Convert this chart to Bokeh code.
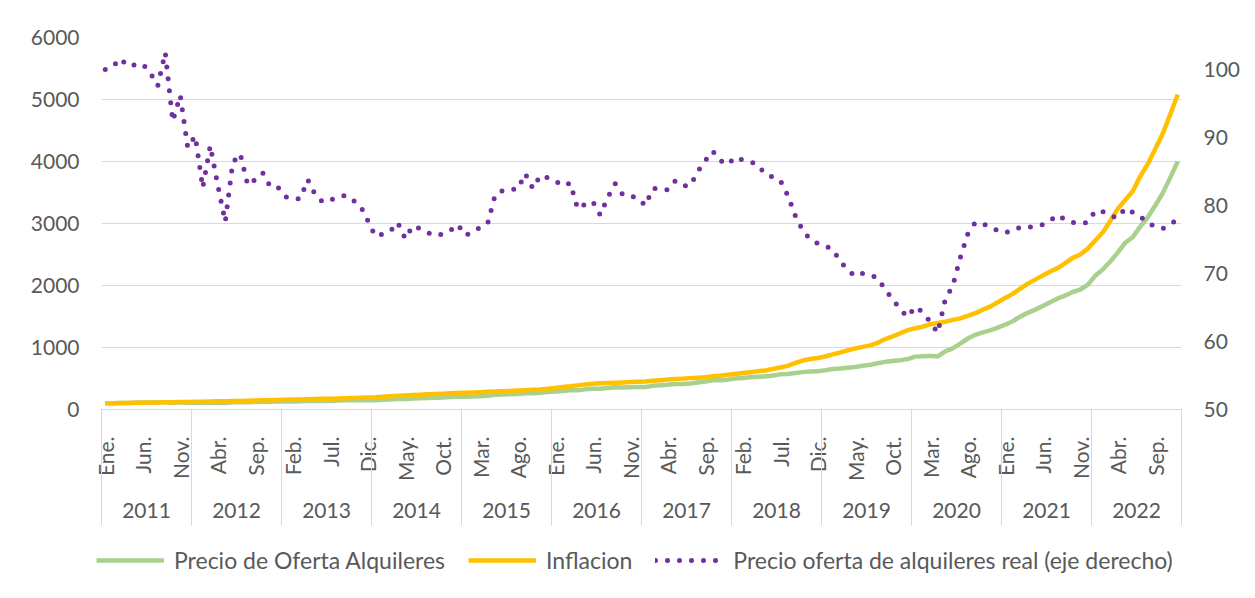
import math
from bokeh.plotting import figure
from bokeh.layouts import column
from bokeh.models import Range1d, LinearAxis, FixedTicker, Legend, LegendItem
from bokeh.embed import file_html
from bokeh.resources import INLINE

# ---------------- data ----------------
YEARS = [str(y) for y in range(2011, 2023)]
MONTHS = ["Ene.", "Feb.", "Mar.", "Abr.", "May.", "Jun.", "Jul.", "Ago.", "Sep.", "Oct.", "Nov.", "Dic."]

# Precio de Oferta Alquileres (left axis), monthly Jan-2011 .. Dec-2022
precio_oferta = [
    100, 102.4, 105.7, 106.5, 108.8, 110.9, 111.4, 111.3, 118.9, 109.0, 115.4, 108.0,
    111.8, 104.9, 114.6, 109.6, 104.0, 118.2, 121.8, 117.9, 121.5, 125.5, 125.0, 127.4,
    127.6, 129.6, 132.0, 139.1, 137.9, 138.5, 141.4, 144.5, 147.5, 149.5, 151.2, 150.2,
    149.5, 156.9, 163.1, 170.5, 169.7, 178.6, 182.3, 185.4, 189.0, 194.0, 199.9, 206.1,
    204.9, 209.3, 215.0, 220.6, 236.6, 242.5, 247.2, 251.3, 263.4, 261.5, 271.8, 281.7,
    290.9, 300.1, 311.5, 309.3, 324.8, 336.1, 333.3, 347.5, 358.6, 355.8, 359.8, 362.5,
    361.6, 381.2, 390.2, 399.2, 411.3, 412.8, 419.5, 436.9, 452.1, 470.8, 470.2, 481.6,
    500.0, 508.9, 518.4, 529.8, 533.0, 549.8, 566.6, 573.0, 588.8, 602.8, 611.3, 617.5,
    633.6, 652.7, 660.6, 673.3, 685.6, 707.0, 722.4, 745.7, 768.6, 781.2, 795.8, 814.1,
    852.8, 858.4, 864.9, 855.1, 936.7, 985.5, 1062.8, 1144.6, 1205.1, 1244.5, 1276.5, 1320.0,
    1368, 1423, 1498, 1559, 1611, 1668, 1731, 1792, 1838, 1895, 1935, 2011,
    2158, 2258, 2386, 2530, 2690, 2781, 2950, 3100, 3290, 3490, 3740, 4000,
]

# Inflacion (left axis)
inflacion = [
    100, 102, 104, 106, 108, 110, 112, 114, 116, 118, 120, 122,
    124, 127, 129, 132, 134, 137, 139, 142, 145, 148, 151, 154,
    157, 160, 163, 166, 169, 172, 175, 178, 181, 185, 189, 193,
    198, 207, 214, 220, 226, 232, 238, 244, 250, 256, 262, 267,
    271, 275, 280, 285, 290, 295, 300, 305, 311, 317, 322, 335,
    348, 362, 374, 389, 405, 417, 424, 428, 431, 436, 442, 447,
    452, 462, 473, 485, 492, 498, 506, 514, 522, 535, 543, 560,
    574, 587, 600, 616, 630, 653, 677, 703, 750, 790, 815, 830,
    855, 888, 920, 955, 985, 1010, 1035, 1076, 1137, 1180, 1230, 1280,
    1310, 1335, 1375, 1395, 1415, 1445, 1470, 1510, 1555, 1610, 1660, 1730,
    1800, 1865, 1950, 2030, 2095, 2160, 2225, 2280, 2360, 2445, 2500, 2595,
    2725, 2855, 3040, 3235, 3380, 3520, 3760, 3960, 4200, 4450, 4760, 5080,
]

# Precio oferta de alquileres real (right axis)
precio_real = [
    100, 100.4, 101.6, 100.5, 100.7, 100.8, 99.5, 97.6, 102.5, 92.4, 96.2, 88.5,
    90.2, 82.6, 88.8, 83.0, 77.6, 86.3, 87.6, 83.0, 83.8, 84.8, 82.8, 82.7,
    81.3, 81.0, 81.0, 83.8, 81.6, 80.5, 80.8, 81.2, 81.5, 80.8, 80.0, 77.8,
    75.5, 75.8, 76.2, 77.5, 75.1, 77.0, 76.6, 76.0, 75.6, 75.8, 76.3, 77.2,
    75.6, 76.1, 76.8, 77.4, 81.6, 82.2, 82.4, 82.4, 84.7, 82.5, 84.4, 84.1,
    83.6, 82.9, 83.3, 79.5, 80.2, 80.6, 78.6, 81.2, 83.2, 81.6, 81.4, 81.1,
    80.0, 82.5, 82.5, 82.3, 83.6, 82.9, 82.9, 85.0, 86.6, 88.0, 86.6, 86.0,
    87.1, 86.7, 86.4, 86.0, 84.6, 84.2, 83.7, 81.5, 78.5, 76.3, 75.0, 74.4,
    74.1, 73.5, 71.8, 70.5, 69.6, 70.0, 69.8, 69.3, 67.6, 66.2, 64.7, 63.6,
    65.1, 64.3, 62.9, 61.3, 66.2, 68.2, 72.3, 75.8, 77.5, 77.3, 76.9, 76.3,
    76.0, 76.3, 76.8, 76.8, 76.9, 77.2, 77.8, 78.6, 77.9, 77.5, 77.4, 77.5,
    79.2, 79.1, 78.5, 78.2, 79.6, 79.0, 78.4, 77.4, 76.9, 76.6, 77.2, 78.0,
]

LEFT_TICKS = [0, 1000, 2000, 3000, 4000, 5000, 6000]
RIGHT_TICKS = [50, 60, 70, 80, 90, 100]
LABELS = ["Precio de Oferta Alquileres", "Inflacion", "Precio oferta de alquileres real (eje derecho)"]

# ---------------- styling ----------------
FONT = "Lato"
FS = "21px"
TXT = "#595959"
GRID = "#d9d9d9"
GREEN = "#A9D18E"
ORANGE = "#FFC000"
PURPLE = "#7030A0"
DOTS = dict(line_width=5, line_dash="0 12", line_cap="round", line_join="round")

n = len(inflacion)
x = list(range(n))

p = figure(width=1250, height=545, output_backend="svg", toolbar_location=None,
           x_range=Range1d(-0.5, n - 0.5), y_range=Range1d(0, 6000),
           x_axis_type=None, min_border_left=101, min_border_right=69,
           min_border_top=37, min_border_bottom=136)
p.outline_line_color = None
p.extra_y_ranges = {"right": Range1d(50, 104.7)}

# grid
p.ygrid.ticker = FixedTicker(ticks=LEFT_TICKS)
p.ygrid.grid_line_color = GRID
p.ygrid.grid_line_width = 1

def style_axis(ax, standoff):
    ax.axis_line_color = None
    ax.major_tick_line_color = None
    ax.minor_tick_line_color = None
    ax.major_tick_out = 0
    ax.major_tick_in = 0
    ax.minor_tick_out = 0
    ax.minor_tick_in = 0
    ax.major_label_standoff = standoff
    ax.major_label_text_font = FONT
    ax.major_label_text_font_size = FS
    ax.major_label_text_color = TXT

# left axis
ly = p.left[0]
ly.ticker = FixedTicker(ticks=LEFT_TICKS)
style_axis(ly, 22)

# right axis
ry = LinearAxis(y_range_name="right", ticker=FixedTicker(ticks=RIGHT_TICKS))
style_axis(ry, 22)
p.add_layout(ry, "right")

# month axis (first level of the category axis)
month_ticks = list(range(0, n, 5))
mx = LinearAxis(ticker=FixedTicker(ticks=month_ticks),
                major_label_overrides={t: MONTHS[t % 12] for t in month_ticks})
style_axis(mx, 27)
mx.axis_line_color = GRID
mx.major_label_orientation = math.pi / 2
p.add_layout(mx, "below")

# year axis (second level)
year_ticks = [12 * k + 5.5 for k in range(len(YEARS))]
yx = LinearAxis(ticker=FixedTicker(ticks=year_ticks),
                major_label_overrides={t: YEARS[k] for k, t in enumerate(year_ticks)})
style_axis(yx, 19)
p.add_layout(yx, "below")

# year separators of the category axis
year_bounds = [12 * k - 0.5 for k in range(len(YEARS) + 1)]
sx = LinearAxis(ticker=FixedTicker(ticks=[], minor_ticks=year_bounds))
style_axis(sx, 0)
sx.minor_tick_line_color = GRID
sx.minor_tick_line_width = 1
sx.minor_tick_in = 112
sx.minor_tick_out = 5
p.add_layout(sx, "below")

# series
p.line(x, precio_oferta, line_color=GREEN, line_width=4.5, line_join="round")
p.line(x, inflacion, line_color=ORANGE, line_width=4.5, line_join="round")
p.line(x, precio_real, y_range_name="right", line_color=PURPLE, **DOTS)

# legend strip (separate figure below the chart, same styles)
pl = figure(width=1250, height=50, output_backend="svg", toolbar_location=None,
            x_range=Range1d(0, 1), y_range=Range1d(0, 1),
            x_axis_type=None, y_axis_type=None,
            min_border_left=0, min_border_right=0, min_border_top=0, min_border_bottom=0)
pl.outline_line_color = None
for fig in (p, pl):
    if "frame_align" in fig.properties():
        fig.frame_align = False

# legend swatches: one point each, kept outside the visible range
g1 = pl.line([0], [-1], line_color=GREEN, line_width=4.5)
g2 = pl.line([0], [-1], line_color=ORANGE, line_width=4.5)
g3 = pl.line([0], [-1], line_color=PURPLE, **DOTS)

legend = Legend(items=[LegendItem(label=LABELS[0], renderers=[g1]),
                       LegendItem(label=LABELS[1], renderers=[g2]),
                       LegendItem(label=LABELS[2], renderers=[g3])],
                orientation="horizontal", location=(96, 21),
                glyph_width=68, glyph_height=20, label_standoff=10, spacing=23,
                padding=0, margin=0, border_line_color=None, background_fill_alpha=0,
                label_text_font=FONT, label_text_font_size="23px", label_text_color=TXT)
pl.add_layout(legend)

layout = column(p, pl, spacing=0)
open("out.html", "w").write(file_html(layout, INLINE))
